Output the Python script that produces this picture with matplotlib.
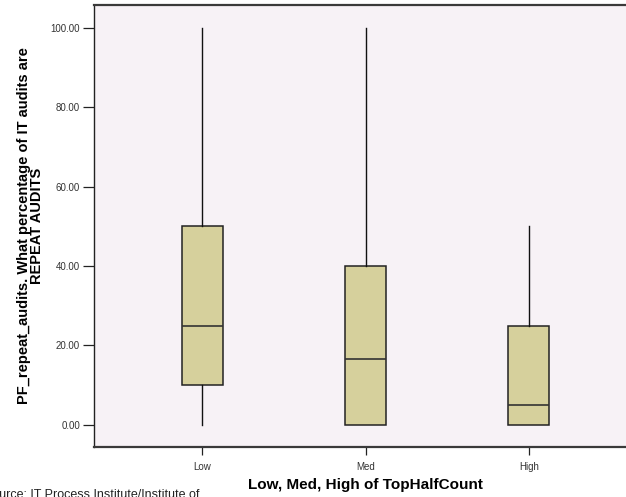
import matplotlib
matplotlib.use("Agg")
import matplotlib.pyplot as plt

# Repeat-audit percentage by TopHalfCount group
groups = ["Low", "Med", "High"]
whisker_low = [0.0, 0.0, 0.0]
q1 = [10.0, 0.0, 0.0]
median = [25.0, 16.67, 5.0]
q3 = [50.0, 40.0, 25.0]
whisker_high = [100.0, 100.0, 50.0]
y_ticks = [0, 20, 40, 60, 80, 100]

plt.rcParams['font.family'] = ['Liberation Sans', 'DejaVu Sans']

stats = []
for i, name in enumerate(groups):
    stats.append({
        "label": name,
        "whislo": whisker_low[i],
        "q1": q1[i],
        "med": median[i],
        "q3": q3[i],
        "whishi": whisker_high[i],
        "fliers": [],
    })

fig = plt.figure(figsize=(6.26, 4.97), dpi=100)
fig.patch.set_facecolor("white")
ax = fig.add_axes([0.1502, 0.1006, 0.8674, 0.8899])
ax.set_facecolor("#f7f2f6")

ax.bxp(
    stats,
    positions=[1, 2, 3],
    widths=0.25,
    patch_artist=True,
    showcaps=False,
    boxprops=dict(facecolor="#d6d09c", edgecolor="#222222", linewidth=1.1),
    medianprops=dict(color="#333333", linewidth=1.2),
    whiskerprops=dict(color="#111111", linewidth=1.0),
)

ax.set_xlim(0.337, 3.663)
ax.set_ylim(-5.6, 105.8)
ax.set_yticks(y_ticks)
ax.set_yticklabels([f"{v:.2f}" for v in y_ticks], fontsize=7, color="#333333")
ax.set_xticks([1, 2, 3])
ax.set_xticklabels(groups, fontsize=7, color="#333333")
ax.tick_params(axis='y', length=8, width=0.9, color="#222222", pad=2)
ax.tick_params(axis='x', length=6, width=0.9, color="#222222", pad=5)

for side in ["top", "bottom"]:
    ax.spines[side].set_color("#3a3a3a")
    ax.spines[side].set_linewidth(1.6)
ax.spines["left"].set_color("#222222")
ax.spines["left"].set_linewidth(1.0)
ax.spines["right"].set_visible(False)

ax.set_xlabel("Low, Med, High of TopHalfCount", fontsize=11, fontweight='bold',
              labelpad=4)
ax.set_ylabel("PF_repeat_audits. What percentage of IT audits are\nREPEAT AUDITS",
              fontsize=10.5, fontweight='bold', labelpad=5, linespacing=0.92)

fig.text(-0.026, 0.004, "Source: IT Process Institute/Institute of", fontsize=9,
         ha="left", va="center", color="#222222")

fig.savefig("out.png", dpi=100)
plt.close(fig)
